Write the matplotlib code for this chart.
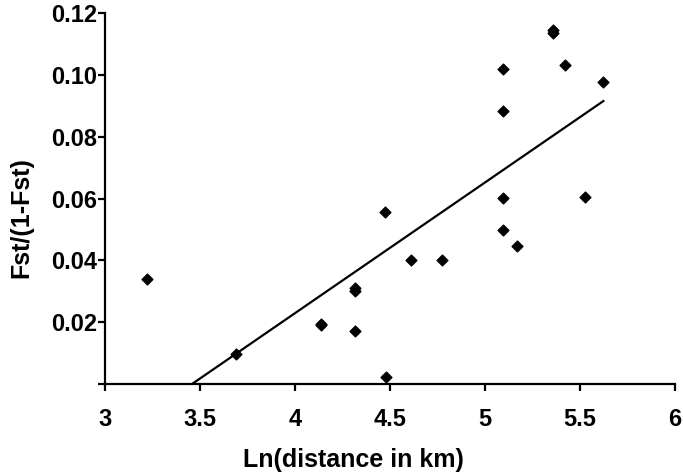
import matplotlib
matplotlib.use("Agg")
import matplotlib.pyplot as plt

# Ln(distance in km) vs Fst/(1-Fst)
ln_dist = [3.22, 3.69, 4.135, 4.135, 4.317, 4.317, 4.317, 4.477, 4.474,
           4.609, 4.772, 5.093, 5.093, 5.093, 5.093, 5.166, 5.36, 5.36,
           5.419, 5.526, 5.623]
fst_ratio = [0.0339, 0.0098, 0.0196, 0.0190, 0.0311, 0.0302, 0.0173, 0.0025, 0.0556,
             0.0401, 0.0401, 0.1018, 0.0882, 0.0601, 0.0499, 0.0447, 0.1145, 0.1135,
             0.1031, 0.0606, 0.0975]

# regression line end points
trend_x = [3.456, 5.623]
trend_y = [0.0, 0.0915]

x_ticks = [3, 3.5, 4, 4.5, 5, 5.5, 6]
x_labels = ["3", "3.5", "4", "4.5", "5", "5.5", "6"]
y_ticks = [0, 0.02, 0.04, 0.06, 0.08, 0.10, 0.12]
y_labels = ["", "0.02", "0.04", "0.06", "0.08", "0.10", "0.12"]

plt.rcParams["font.family"] = ["Liberation Sans", "DejaVu Sans"]
plt.rcParams["font.weight"] = "bold"

fig = plt.figure(figsize=(6.83, 4.75), dpi=100)
ax = fig.add_axes([0.1537, 0.191, 0.8346, 0.782])

ax.scatter(ln_dist, fst_ratio, marker="D", s=30, color="black", zorder=3)
ax.plot(trend_x, trend_y, color="black", linewidth=1.6)

ax.set_xlim(3, 6)
ax.set_ylim(0, 0.12)
ax.set_xticks(x_ticks)
ax.set_xticklabels(x_labels)
ax.set_yticks(y_ticks)
ax.set_yticklabels(y_labels)

for side in ["top", "right"]:
    ax.spines[side].set_visible(False)
for side in ["left", "bottom"]:
    ax.spines[side].set_linewidth(1.6)

ax.tick_params(axis="both", direction="out", length=5, width=1.6, labelsize=17)
ax.tick_params(axis="x", pad=12)
ax.tick_params(axis="y", pad=0.5)

fig.text(353 / 683, 1 - 460 / 475, "Ln(distance in km)", fontsize=18,
         fontweight="bold", ha="center", va="center")
fig.text(21 / 683, 1 - 218 / 475, "Fst/(1-Fst)", fontsize=18,
         fontweight="bold", ha="center", va="center", rotation=90)

fig.savefig("out.png", dpi=100)
